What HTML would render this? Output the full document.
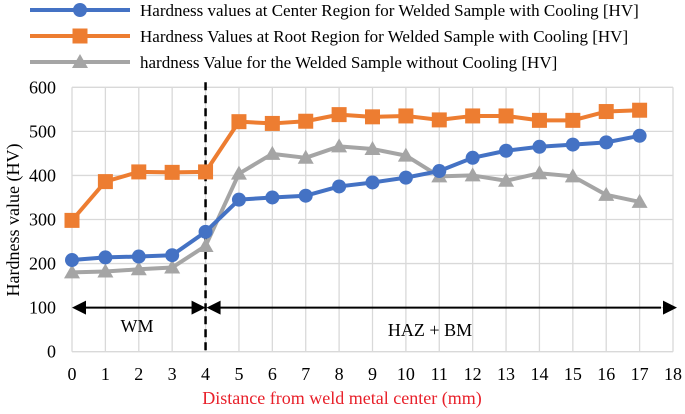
<!DOCTYPE html>
<html><head><meta charset="utf-8"><style>
body{margin:0;background:#fff;width:685px;height:409px;overflow:hidden}
text{font-family:"Liberation Serif",serif}
</style></head><body>
<svg id="c" width="685" height="409"></svg>
<script>
const xTicks=[0,1,2,3,4,5,6,7,8,9,10,11,12,13,14,15,16,17,18];
const yTicks=[0,100,200,300,400,500,600];
const xs=[0,1,2,3,4,5,6,7,8,9,10,11,12,13,14,15,16,17];
const center=[208,214,216,219,272,345,350,354,375,384,395,410,440,456,465,470,475,490];
const root=[298,386,408,407,408,522,518,523,538,533,535,526,535,535,525,525,545,548];
const nocool=[180,182,187,191,240,404,449,440,466,460,445,398,400,388,405,398,356,340];
const names=["Hardness values at Center Region for Welded Sample with Cooling [HV]","Hardness Values at Root Region for Welded Sample with Cooling [HV]","hardness Value for the Welded Sample without Cooling [HV]"];
const X0=72,X1=673,Y0=351.7,Y1=87.3;
const sx=v=>X0+(v-0)/18*(X1-X0), sy=v=>Y0-(v/600)*(Y0-Y1);
const svg=document.getElementById('c');const NS='http://www.w3.org/2000/svg';
function mk(t,a,p){const e=document.createElementNS(NS,t);for(const k in a)e.setAttribute(k,a[k]);(p||svg).appendChild(e);return e;}
const grid=mk('g',{});
xTicks.forEach(v=>{mk('line',{x1:sx(v),x2:sx(v),y1:Y1,y2:Y0,stroke:'#d9d9d9','stroke-width':1.3},grid);
 const t=mk('text',{x:sx(v),y:380,'text-anchor':'middle','font-size':18,fill:'#000'});t.textContent=v;
 });
yTicks.forEach(v=>{mk('line',{x1:X0,x2:X1,y1:sy(v),y2:sy(v),stroke:'#d9d9d9','stroke-width':1.3},grid);
 const t=mk('text',{x:56,y:sy(v)+6,'text-anchor':'end','font-size':18,fill:'#000'});t.textContent=v;
 });
let t=mk('text',{x:342,y:404,'text-anchor':'middle','font-size':18,fill:'#e8202a'});t.textContent='Distance from weld metal center (mm)';

t=mk('text',{x:0,y:0,'text-anchor':'middle','font-size':18,transform:'translate(19,220) rotate(-90)'});t.textContent='Hardness value (HV)';

const ann=mk('g',{});
mk('line',{x1:sx(4),x2:sx(4),y1:Y1-5,y2:Y0,stroke:'#000','stroke-width':2.5,'stroke-dasharray':'8,5'},ann);
mk('line',{x1:X0+12,x2:sx(4)-12,y1:sy(100),y2:sy(100),stroke:'#000','stroke-width':2},ann);
mk('polygon',{points:`${X0},${sy(100)} ${X0+14},${sy(100)-7} ${X0+14},${sy(100)+7}`},ann);
mk('polygon',{points:`${sx(4)},${sy(100)} ${sx(4)-14},${sy(100)-7} ${sx(4)-14},${sy(100)+7}`},ann);
mk('line',{x1:sx(4)+12,x2:X1-12,y1:sy(100),y2:sy(100),stroke:'#000','stroke-width':2},ann);
mk('polygon',{points:`${sx(4)+1},${sy(100)} ${sx(4)+15},${sy(100)-7} ${sx(4)+15},${sy(100)+7}`},ann);
mk('polygon',{points:`${X1+4},${sy(100)} ${X1-10},${sy(100)-7} ${X1-10},${sy(100)+7}`},ann);
t=mk('text',{x:137,y:332,'text-anchor':'middle','font-size':18},ann);t.textContent='WM';
t=mk('text',{x:430,y:336,'text-anchor':'middle','font-size':18},ann);t.textContent='HAZ + BM';
function marker(kind,x,y,col,p){
 if(kind==0)return mk('circle',{cx:x,cy:y,r:7,fill:col},p);
 if(kind==1)return mk('rect',{x:x-7.5,y:y-7.5,width:15,height:15,fill:col},p);
 return mk('polygon',{points:`${x},${y-8} ${x+8},${y+6} ${x-8},${y+6}`,fill:col},p);}
const series=[[center,'#4472c4',0,'series-center'],[root,'#ed7d31',1,'series-root'],[nocool,'#a5a5a5',2,'series-no-cooling']];
[series[2],series[0],series[1]].forEach(([d,col,k,n])=>{
 const g=mk('g',{});
 mk('polyline',{points:xs.map((x,i)=>sx(x)+','+sy(d[i])).join(' '),fill:'none',stroke:col,'stroke-width':4,'stroke-linejoin':'round'},g);
 xs.forEach((x,i)=>{const m=marker(k,sx(x),sy(d[i]),col,g);});
});
series.forEach(([d,col,k,n],i)=>{
 const g=mk('g',{});
 const y=10+i*26;
 mk('line',{x1:30,x2:130,y1:y,y2:y,stroke:col,'stroke-width':4},g);
 marker(k,80,y,col,g);
 const tt=mk('text',{x:140,y:y+6,'font-size':17},g);tt.textContent=names[i];
});
</script>
</body></html>
